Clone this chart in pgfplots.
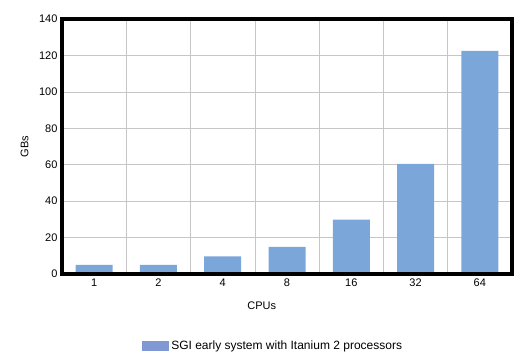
\documentclass[border=0pt]{standalone}
\usepackage{fontspec}
\setmainfont{Liberation Sans}
\usepackage{pgfplots}
\pgfplotsset{compat=1.18}
\definecolor{barblue}{RGB}{122,166,218}
\definecolor{legblue}{RGB}{128,152,212}
\begin{document}
\begin{tikzpicture}[x=1pt,y=1pt]
\useasboundingbox (-62,-89) rectangle (462,274);
\begin{axis}[
  at={(0,0)}, anchor=south west,
  scale only axis, width=450pt, height=255pt,
  xmin=-0.5, xmax=6.5, ymin=0, ymax=140,
  clip=false,
  xtick={0,1,2,3,4,5,6},
  xticklabels={1,2,4,8,16,32,64},
  minor xtick={0.5,1.5,2.5,3.5,4.5,5.5},
  ytick={0,20,...,140},
  xmajorgrids=false, xminorgrids=true, ymajorgrids=true,
  minor grid style={gray!45, line width=0.6pt},
  major grid style={gray!45, line width=0.6pt},
  axis line style={line width=3.5pt},
  tick style={draw=none}, minor tick style={draw=none},
  /pgf/number format/assume math mode=true,
  tick label style={font=\fontsize{11}{13}\selectfont},
  yticklabel style={xshift=-1pt},
  xticklabel style={yshift=-1pt},
  xlabel={CPUs}, ylabel={GBs},
  label style={font=\fontsize{11}{13}\selectfont},
  xlabel style={at={(axis description cs:0.444,0)}, anchor=north, yshift=-24pt},
  ylabel style={at={(axis description cs:0,0.5)}, yshift=30pt},
  legend style={draw=none, at={(axis description cs:0.178,-0.282)}, anchor=west,
    font=\fontsize{12}{14}\selectfont, inner sep=0pt},
  legend image code/.code={\fill[legblue] (0pt,-5pt) rectangle (27pt,5pt);},
  legend cell align=left,
]
\addplot[ybar, bar width=37pt, fill=barblue, draw=none, bar shift=0pt]
  coordinates {(0,5) (1,5) (2,9.7) (3,14.9) (4,29.8) (5,60.4) (6,122.5)};
\addlegendentry{SGI early system with Itanium 2 processors}
\draw[line width=3.5pt, black] (rel axis cs:0,0) rectangle (rel axis cs:1,1);
\end{axis}
\end{tikzpicture}
\end{document}
